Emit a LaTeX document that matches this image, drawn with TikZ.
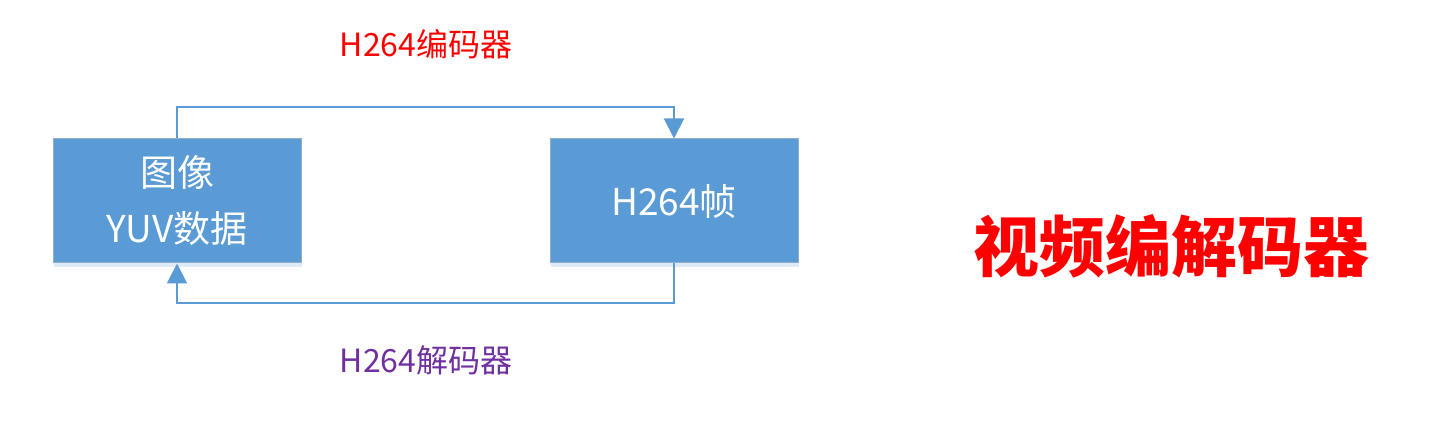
\documentclass[tikz,border=0pt]{standalone}
\usepackage{fontspec}
\setmainfont{Noto Sans CJK SC}
\usetikzlibrary{arrows.meta,shadows}
\definecolor{boxblue}{HTML}{5B9BD5}
\definecolor{boxedge}{HTML}{8FAFCB}
\definecolor{labred}{HTML}{FF0000}
\definecolor{labpurple}{HTML}{7030A0}
\begin{document}
\begin{tikzpicture}[x=1pt,y=-1pt,
  block/.style={draw=boxedge, line width=1pt, fill=boxblue,
    minimum width=248pt, minimum height=124pt, inner sep=0pt,
    text=white, align=center, font=\fontsize{37}{56}\selectfont,
    drop shadow={shadow xshift=1pt, shadow yshift=-4pt, opacity=0.2, fill=boxblue}},
  link/.style={draw=boxblue, line width=2pt},
  tip/.style={-{Triangle[length=20pt,width=20pt]}},
  lab/.style={font=\fontsize{32}{38}\selectfont, inner sep=0pt}
]
\useasboundingbox (0,0) rectangle (1444,443);
\node[block] (yuv) at (177,201) {图像\\YUV数据};
\node[block] (h264) at (674,201) {H264帧};
\node[lab, text=labred] (enc) at (426,44) {H264编码器};
\node[lab, text=labpurple] (dec) at (426,360) {H264解码器};
\node[font=\fontsize{66}{72}\selectfont\bfseries, text=labred, inner sep=0pt] (title) at (1171,246) {视频编解码器};
\draw[link, tip] (yuv.north) -- ++(0,-31) -| (h264.north);
\draw[link, tip] (h264.south) -- ++(0,40) -| (yuv.south);
\end{tikzpicture}
\end{document}
